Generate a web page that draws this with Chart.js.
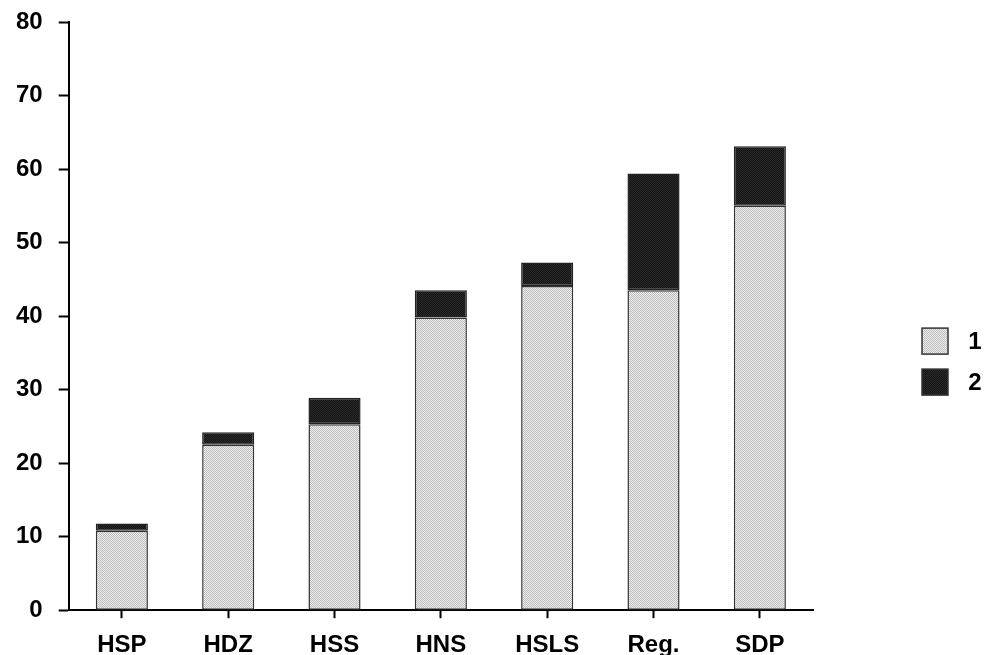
<!DOCTYPE html>
<html>
<head>
<meta charset="utf-8">
<script src="https://cdn.jsdelivr.net/npm/chart.js@4"></script>
<style>
  html, body { margin: 0; padding: 0; background: #fff; }
  #wrap { width: 987px; height: 655px; }
</style>
</head>
<body>
<div id="wrap"><canvas id="chart"></canvas></div>
<script>
const categories = ["HSP", "HDZ", "HSS", "HNS", "HSLS", "Reg.", "SDP"];
const series1 = [10.8, 22.5, 25.3, 39.8, 44.1, 43.5, 55.0];
const series2 = [1.0, 1.7, 3.6, 3.7, 3.2, 15.9, 8.1];
const seriesNames = ["1", "2"];
const yTicks = [0, 10, 20, 30, 40, 50, 60, 70, 80];

const font = "'Liberation Sans', Arial, Helvetica, sans-serif";

// little stipple tile, like the screened grey of the print
const stipple = (base, dot) => {
    const c = document.createElement("canvas");
    c.width = 2;
    c.height = 2;
    const g = c.getContext("2d");
    g.fillStyle = base;
    g.fillRect(0, 0, 2, 2);
    g.fillStyle = dot;
    g.fillRect(0, 0, 1, 1);
    g.fillRect(1, 1, 1, 1);
    return g.createPattern(c, "repeat");
};

const lightFill = stipple("#eeeeee", "#bcbcbc");
const darkFill = stipple("#141414", "#2a2a2a");

const legendBoxes = {
    id: "legendBoxes",
    afterDraw(chart) {
        const ctx = chart.ctx;
        const area = chart.chartArea;
        const x = area.right + 109;
        const mid = (area.top + area.bottom) / 2 + 45;
        chart.data.datasets.forEach((ds, i) => {
            const y = mid - 33 + i * 41;
            ctx.save();
            ctx.fillStyle = ds.backgroundColor;
            ctx.fillRect(x, y, 26, 26);
            ctx.strokeStyle = "#333";
            ctx.lineWidth = 1.5;
            ctx.strokeRect(x, y, 26, 26);
            ctx.fillStyle = "#000";
            ctx.font = "bold 24px " + font;
            ctx.textBaseline = "middle";
            ctx.textAlign = "center";
            ctx.fillText(ds.label, x + 53, y + 14);
            ctx.restore();
        });
    }
};

new Chart(document.getElementById("chart"), {
    type: "bar",
    data: {
        labels: categories,
        datasets: [{
            label: seriesNames[0],
            data: series1,
            backgroundColor: lightFill,
            borderColor: "#333",
            borderWidth: 1.5,
            borderSkipped: false
        }, {
            label: seriesNames[1],
            data: series2,
            backgroundColor: darkFill,
            borderColor: "#222",
            borderWidth: 1.5,
            borderSkipped: false
        }]
    },
    options: {
        responsive: true,
        maintainAspectRatio: false,
        animation: false,
        devicePixelRatio: 1,
        layout: {
            padding: { top: 22, right: 174, bottom: -18, left: 0 }
        },
        datasets: {
            bar: {
                categoryPercentage: 1,
                barPercentage: 0.49
            }
        },
        scales: {
            x: {
                stacked: true,
                grid: {
                    display: true,
                    drawOnChartArea: false,
                    offset: false,
                    tickLength: 8,
                    tickWidth: 2,
                    tickColor: "#000"
                },
                border: { display: true, color: "#000", width: 2 },
                ticks: {
                    color: "#000",
                    padding: 13,
                    font: { family: font, size: 24, weight: "bold" }
                }
            },
            y: {
                stacked: true,
                min: 0,
                max: 80,
                afterBuildTicks: (axis) => {
                    axis.ticks = yTicks.map(v => ({ value: v }));
                },
                afterFit: (axis) => {
                    axis.paddingTop = 0;
                    axis.paddingBottom = 0;
                },
                grid: {
                    display: true,
                    drawOnChartArea: false,
                    tickLength: 10,
                    tickWidth: 2,
                    tickColor: "#000"
                },
                border: { display: true, color: "#000", width: 2 },
                ticks: {
                    color: "#000",
                    padding: 16,
                    font: { family: font, size: 24, weight: "bold" }
                }
            }
        },
        plugins: {
            legend: { display: false },
            tooltip: { enabled: false }
        }
    },
    plugins: [legendBoxes]
});
</script>
</body>
</html>
